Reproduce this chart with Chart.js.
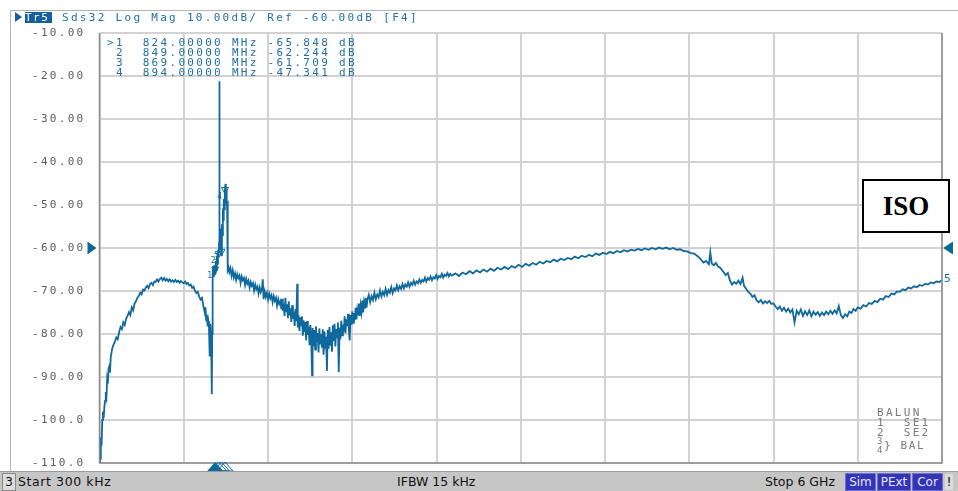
<!DOCTYPE html>
<html>
<head>
<meta charset="utf-8">
<script src="https://cdn.jsdelivr.net/npm/chart.js@4.4.1/dist/chart.umd.min.js"></script>
<style>
  body { margin: 0; background: #fff; }
  #page { position: relative; width: 958px; height: 491px; overflow: hidden; background: #fff; }
  #frame { position: absolute; left: 10px; top: 10px; width: 960px; height: 460px; border-top: 1px solid #b4b4b4; border-left: 1px solid #b4b4b4; }
  #chartBox { position: absolute; left: 0; top: 0; width: 958px; height: 491px; }
  .mono { position: absolute; font-family: 'DejaVu Sans Mono', monospace; font-size: 11px; letter-spacing: 2.3px; color: #1f6fa5; white-space: pre; }
  #tri { position: absolute; left: 15px; top: 12px; width: 0; height: 0; border-left: 7px solid #15609c; border-top: 5px solid transparent; border-bottom: 5px solid transparent; }
  #tr5 { left: 25px; top: 12px; width: 27px; height: 11px; line-height: 11px; background: #15609c; color: #fff; letter-spacing: 1.5px; }
  #head { left: 62px; top: 12px; line-height: 11px; }
  #readout { left: 107px; top: 38px; line-height: 10px; }
  #iso { position: absolute; left: 862px; top: 179px; width: 88px; height: 54px; box-sizing: border-box; border: 2px solid #000; background: #fff;
         font-family: 'Liberation Serif', serif; font-weight: bold; font-size: 27px; line-height: 50px; text-align: center; color: #000; }
  #balun { left: 877px; top: 408px; line-height: 10px; color: #7a7a7a; }
  #balun2 { left: 877px; top: 437px; line-height: 9px; font-size: 9px; letter-spacing: 1px; color: #7a7a7a; }
  #balun3 { left: 884px; top: 440px; line-height: 12px; color: #7a7a7a; letter-spacing: 1.6px; }
  #status { position: absolute; left: 0; top: 471px; width: 958px; height: 20px; background: #c6c6c6; border-top: 1px solid #9a9a9a;
            font-family: 'DejaVu Sans', sans-serif; font-size: 12.5px; color: #111; }
  #status span { position: absolute; top: 2px; height: 16px; line-height: 16px; white-space: nowrap; }
  #status .box3 { left: 2px; width: 12px; text-align: center; background: #dcdcdc; border: 1px solid #8a8a8a; top: 1px; font-size: 12px; }
  #status .flag { background: #3434b8; color: #e8e8ff; text-align: center; border: 1px solid #7070d0; top: 1px; font-size: 12px; }
</style>
</head>
<body>
<div id="page">
  <div id="frame"></div>
  <div id="chartBox"><canvas id="c"></canvas></div>
  <div id="tri"></div>
  <div id="tr5" class="mono">Tr5</div>
  <div id="head" class="mono">Sds32 Log Mag 10.00dB/ Ref -60.00dB [F4]</div>
  <div id="readout" class="mono"></div>
  <div id="iso">ISO</div>
  <div id="balun" class="mono">BALUN
1  SE1
2  SE2</div>
  <div id="balun2" class="mono">3
4</div>
  <div id="balun3" class="mono">} BAL</div>
  <div id="status">
    <span class="box3">3</span>
    <span style="left:18px;letter-spacing:0.6px">Start 300 kHz</span>
    <span style="left:397px">IFBW 15 kHz</span>
    <span style="left:765px">Stop 6 GHz</span>
    <span class="flag" style="left:845px;width:29px">Sim</span>
    <span class="flag" style="left:877px;width:32px">PExt</span>
    <span class="flag" style="left:912px;width:29px">Cor</span>
    <span style="left:945px;width:8px;text-align:center;background:#dcdcdc;">!</span>
  </div>
</div>
<script>
// sweep, MHz
const startMHz = 0.3;
const stopMHz = 6000;
const refLevel = -60;
const yTicks = [-10, -20, -30, -40, -50, -60, -70, -80, -90, -100, -110];

// markers
const markerFreq = [824, 849, 869, 894];
const markerDb = [-65.848, -62.244, -61.709, -47.341];

// trace, [MHz, dB]
const lowBand = [
  [0.3,-112],[5,-109],[10,-104],[15,-106],[20,-100],[25,-98],[30,-99.5],[35,-97],[40,-95.5],[45,-93.5],
  [50,-94.5],[55,-90.5],[60,-91.5],[65,-88],[70,-87.5],[75,-89],[80,-85.5],[90,-83.5],[100,-82.5],[110,-81.8],
  [120,-80.8],[130,-81.2],[140,-79.6],[150,-78.4],[160,-78.9],[170,-77.3],[180,-77.9],[190,-76.4],[200,-75.8],[210,-74.9],
  [220,-75.6],[230,-73.8],[240,-74.5],[250,-72.9],[260,-72.4],[270,-71.6],[280,-71.2],[290,-70.4],[300,-70.8],[310,-69.7],
  [320,-69.9],[330,-69.2],[340,-68.8],[350,-69.3],[360,-68.4],[370,-68.1],[380,-68.6],[390,-67.8],[400,-67.9],[410,-67.3],
  [420,-67.8],[430,-67.2],[440,-66.9],[450,-67.5],[460,-67.0],[470,-67.6],[480,-67.2],[490,-67.7],[500,-67.3],[510,-67.8],
  [520,-67.5],[530,-67.9],[540,-67.4],[550,-67.9],[560,-67.6],[570,-68.1],[580,-67.7],[590,-68.0],[600,-68.2],[610,-67.8],
  [620,-68.4],[630,-68.1],[640,-68.7],[650,-68.5],[660,-69.3],[670,-69.0],[680,-69.9],[690,-70.5],[700,-70.2],[710,-71.3],
  [720,-72.0],[730,-71.6],[740,-73.5],[750,-75.0],[755,-73.8],[760,-76.8],[765,-75.5],[770,-78.2],[775,-77.0],[780,-78.5],
  [785,-85.2],[790,-77.6],[795,-80.5],[800,-94.0],[803,-80.0]
];
const spikeBand = [
  [806,-66.5],[810,-64.2],[814,-66.8],[818,-64.0],[822,-66.3],[824,-65.8],[828,-63.0],[832,-65.2],[836,-61.8],[840,-63.6],
  [844,-60.5],[849,-62.2],[852,-58.5],[853,-21.2],[854,-57.0],[857,-60.5],[861,-55.5],[865,-58.8],[869,-61.7],[872,-54.5],
  [876,-57.0],[879,-50.8],[882,-53.5],[885,-48.6],[888,-51.0],[891,-46.3],[894,-47.3],[897,-45.1],[900,-48.8],[903,-46.5],
  [906,-50.2],[909,-49.0],[912,-60.0],[915,-65.2],[920,-64.6]
];
const shoulderBand = [
  [925,-65.6],[933,-64.7],[941,-66.5],[949,-65.2],[957,-66.9],[965,-65.9],[973,-67.4],[981,-66.1],[989,-67.0],[997,-66.4],
  [1005,-68.1],[1013,-66.6],[1021,-67.5],[1029,-67.0],[1037,-68.6],[1045,-67.2],[1053,-68.3],[1061,-67.6],[1069,-69.2],[1077,-67.9],
  [1085,-68.8],[1093,-68.2],[1101,-69.9],[1109,-68.5],[1117,-69.6],[1125,-69.0],[1133,-70.6],[1141,-69.2],[1149,-70.3],[1157,-69.5],
  [1163,-67.3],[1169,-71.9],[1177,-70.1],[1185,-71.4],[1193,-70.4],[1201,-72.0],[1209,-70.6],[1217,-71.7],[1225,-71.0],[1233,-72.6],
  [1241,-71.2],[1249,-72.3],[1257,-71.6],[1265,-73.4],[1273,-71.9],[1281,-73.0],[1289,-72.4],[1295,-74.2]
];
const dipBand = [
  [1300,-71.8],[1306,-74.6],[1312,-72.9],[1318,-75.8],[1324,-71.6],[1330,-74.9],[1336,-73.1],[1342,-76.3],[1348,-72.4],[1354,-75.7],
  [1360,-74.0],[1366,-77.2],[1372,-73.3],[1378,-76.4],[1384,-74.8],[1390,-78.1],[1396,-74.2],[1402,-77.0],[1408,-68.3],[1412,-78.5],
  [1418,-75.6],[1424,-79.3],[1430,-76.1],[1436,-78.0],[1442,-75.9],[1448,-80.4],[1454,-76.8],[1460,-79.6],[1466,-77.2],[1472,-81.5],
  [1478,-77.0],[1484,-80.2],[1490,-78.3],[1496,-82.6],[1502,-77.9],[1508,-81.0],[1514,-89.6],[1518,-78.6],[1524,-82.8],[1530,-79.1],
  [1536,-83.6],[1542,-78.2],[1548,-81.9],[1554,-79.8],[1560,-84.3],[1566,-78.7],[1572,-82.4],[1578,-80.1],[1584,-83.2],[1590,-78.9],
  [1596,-84.8],[1602,-79.4],[1608,-82.0],[1614,-80.6],[1620,-88.6],[1626,-79.0],[1632,-83.4],[1638,-78.4],[1644,-82.7],[1650,-79.6],
  [1656,-84.1],[1662,-78.0],[1668,-81.6],[1674,-77.6],[1680,-82.9],[1686,-78.8],[1692,-80.7],[1698,-77.3],[1704,-88.9],[1710,-78.5],
  [1716,-81.2],[1722,-76.9],[1728,-80.3],[1734,-77.8],[1740,-79.4],[1746,-75.9],[1752,-79.8],[1758,-76.6],[1764,-78.2],[1770,-75.3],
  [1776,-78.9],[1782,-81.5],[1788,-75.6],[1794,-77.9],[1800,-74.7],[1806,-77.4],[1812,-75.1],[1818,-76.8],[1824,-73.9],[1830,-76.6],
  [1836,-74.3],[1842,-75.5],[1848,-72.9],[1854,-75.8],[1860,-73.4],[1866,-74.9],[1872,-72.2],[1878,-75.0],[1884,-72.7],[1890,-74.1],
  [1896,-71.6],[1902,-73.9],[1908,-72.0]
];
const riseBand = [
  [1918,-70.9],[1928,-72.6],[1938,-71.2],[1948,-72.1],[1958,-70.4],[1968,-71.9],[1978,-70.8],[1988,-71.5],[1998,-69.9],[2008,-71.3],
  [2018,-70.2],[2028,-71.0],[2038,-69.5],[2048,-70.9],[2058,-69.8],[2068,-70.4],[2078,-69.1],[2088,-70.5],[2098,-69.4],[2108,-69.9],
  [2118,-68.7],[2128,-69.8],[2138,-68.9],[2148,-69.5],[2158,-68.4],[2168,-69.4],[2178,-68.5],[2188,-69.0],[2198,-68.0],[2208,-69.0],
  [2218,-68.1],[2228,-68.6],[2238,-67.6],[2248,-68.5],[2258,-67.8],[2268,-68.2],[2278,-67.3],[2288,-68.1],[2298,-67.4],[2308,-67.8],
  [2318,-66.9],[2328,-67.8],[2338,-67.0],[2348,-67.4],[2358,-66.6],[2368,-67.5],[2378,-66.8],[2388,-67.1],[2398,-66.3],[2408,-67.2],
  [2418,-66.5],[2428,-66.8],[2438,-66.0],[2448,-66.9],[2458,-66.2],[2468,-66.5],[2478,-65.8],[2488,-66.6],[2498,-66.0]
];
const flatBand = [
  [2510,-66.4],[2535,-65.9],[2560,-66.5],[2585,-65.7],[2610,-66.1],[2635,-65.4],[2660,-65.9],[2685,-65.2],[2710,-65.7],[2735,-65.0],
  [2760,-65.5],[2785,-64.8],[2810,-65.3],[2835,-64.6],[2860,-65.0],[2885,-64.4],[2910,-64.9],[2935,-64.2],[2960,-64.6],[2985,-63.9],
  [3010,-64.4],[3035,-63.7],[3060,-64.1],[3085,-63.5],[3110,-63.9],[3135,-63.2],[3160,-63.6],[3185,-63.0],[3210,-63.3],[3235,-62.7],
  [3260,-63.1],[3285,-62.5],[3310,-62.8],[3335,-62.3],[3360,-62.6],[3385,-62.0],[3410,-62.4],[3435,-61.8],[3460,-62.1],[3485,-61.6],
  [3510,-61.9],[3535,-61.3],[3560,-61.6],[3585,-61.1],[3610,-61.4],[3635,-60.9],[3660,-61.2],[3685,-60.7],[3710,-61.0],[3735,-60.5],
  [3760,-60.8],[3785,-60.4],[3810,-60.6],[3835,-60.2],[3860,-60.5],[3885,-60.1],[3910,-60.4],[3935,-60.0],[3960,-60.3],[3985,-59.9],
  [4010,-60.2],[4035,-59.9],[4060,-60.3],[4085,-60.0],[4110,-60.4],[4135,-60.3],[4160,-60.7],[4185,-60.8],[4210,-61.2],[4235,-61.3],
  [4260,-61.9],[4280,-62.5],[4300,-63.4],[4320,-63.0],[4340,-63.8],[4350,-61.0],[4360,-63.6],[4375,-64.0],[4390,-63.5],[4405,-64.3],
  [4420,-64.6]
];
const tailBand = [
  [4440,-65.4],[4460,-66.3],[4475,-65.8],[4490,-67.6],[4505,-68.5],[4520,-67.9],[4535,-68.3],[4550,-67.6],[4565,-68.4],[4580,-66.9],
  [4590,-68.8],[4605,-69.5],[4620,-70.2],[4635,-70.6],[4650,-71.4],[4665,-71.0],[4680,-72.2],[4695,-72.6],[4710,-72.1],[4725,-72.9],
  [4740,-72.4],[4755,-72.8],[4770,-72.3],[4785,-73.0],[4800,-72.9],[4815,-73.6],[4830,-74.2],[4845,-73.6],[4860,-74.6],[4875,-73.9],
  [4890,-74.8],[4905,-74.1],[4920,-75.0],[4935,-74.3],[4950,-77.3],[4965,-74.6],[4980,-75.4],[4995,-74.3],[5010,-75.8],[5025,-74.7],
  [5040,-75.6],[5055,-74.5],[5070,-75.9],[5085,-74.8],[5100,-75.5],[5115,-74.9],[5130,-75.8],[5145,-75.0],[5160,-75.6],[5175,-74.8],
  [5190,-75.4],[5205,-74.6],[5220,-75.3],[5235,-74.5],[5250,-75.2],[5265,-73.5],[5280,-75.6],[5295,-76.3],[5310,-75.4],[5325,-75.9],
  [5340,-74.8],[5355,-75.1],[5370,-74.2],[5385,-74.6],[5400,-73.8],[5420,-74.1],[5440,-73.3],[5460,-73.6],[5480,-72.8],[5500,-73.0],
  [5520,-72.3],[5540,-72.6],[5560,-71.8],[5580,-72.0],[5600,-71.2],[5620,-71.4],[5640,-70.6],[5660,-70.8],[5680,-70.1],[5700,-70.2],
  [5720,-69.6],[5740,-69.8],[5760,-69.2],[5780,-69.4],[5800,-68.9],[5820,-69.1],[5840,-68.6],[5860,-68.8],[5880,-68.3],[5900,-68.5],
  [5920,-68.0],[5940,-68.2],[5960,-67.8],[5980,-67.9],[6000,-67.5]
];

const traceColor = '#10699c';
const gridColor = '#d2d2d2';

const trace = [].concat(lowBand, spikeBand, shoulderBand, dipBand, riseBand, flatBand, tailBand).map(p => ({ x: p[0], y: p[1] }));

// marker readout text
document.getElementById('readout').textContent = markerFreq.map((f, i) =>
  (i === 0 ? '>' : ' ') + (i + 1) + '  ' + f.toFixed(5) + ' MHz ' + markerDb[i].toFixed(3) + ' dB'
).join('\n');

const overlay = {
  id: 'overlay',
  beforeDraw(chart) {
    chart.ctx.letterSpacing = '2.3px';
  },
  afterDraw(chart) {
    const { ctx, chartArea: a, scales: { x, y } } = chart;
    ctx.save();
    ctx.letterSpacing = '0px';
    // dark box edges
    ctx.strokeStyle = '#8c8c8c';
    ctx.lineWidth = 1.5;
    ctx.beginPath();
    ctx.moveTo(a.left, a.top);
    ctx.lineTo(a.left, a.bottom);
    ctx.lineTo(a.right, a.bottom);
    ctx.lineTo(a.right, a.top);
    ctx.stroke();

    // reference level arrows
    const ry = y.getPixelForValue(refLevel);
    ctx.fillStyle = traceColor;
    ctx.beginPath();
    ctx.moveTo(a.left - 12, ry - 6.5); ctx.lineTo(a.left - 3, ry); ctx.lineTo(a.left - 12, ry + 6.5);
    ctx.fill();
    ctx.beginPath();
    ctx.moveTo(a.right + 11, ry - 6.5); ctx.lineTo(a.right + 1, ry); ctx.lineTo(a.right + 11, ry + 6.5);
    ctx.fill();

    // trace number at the right end
    const last = trace[trace.length - 1];
    ctx.font = '11px "DejaVu Sans Mono"';
    ctx.textBaseline = 'middle';
    ctx.textAlign = 'left';
    ctx.fillText('5', a.right + 2, y.getPixelForValue(last.y) - 1);

    // marker flags under the axis
    ctx.strokeStyle = traceColor;
    ctx.lineWidth = 1;
    markerFreq.forEach((f, i) => {
      const mx = x.getPixelForValue(f);
      ctx.beginPath();
      ctx.moveTo(mx, a.bottom - 1); ctx.lineTo(mx - 8, a.bottom + 8); ctx.lineTo(mx + 8, a.bottom + 8);
      ctx.closePath();
      if (i === 0) ctx.fill(); else ctx.stroke();
    });

    // marker symbols on the trace
    ctx.font = '8px "DejaVu Sans Mono"';
    ctx.textAlign = 'right';
    markerFreq.forEach((f, i) => {
      const mx = x.getPixelForValue(f);
      const my = y.getPixelForValue(markerDb[i]);
      ctx.beginPath();
      ctx.moveTo(mx, my); ctx.lineTo(mx - 3.5, my - 6); ctx.lineTo(mx + 3.5, my - 6);
      ctx.closePath();
      ctx.stroke();
      ctx.fillText(String(i + 1), mx - 3, my + 3);
    });
    ctx.restore();
  }
};

new Chart(document.getElementById('c'), {
  type: 'line',
  data: {
    datasets: [{
      data: trace,
      borderColor: traceColor,
      borderWidth: 1.8,
      pointRadius: 0,
      tension: 0,
      fill: false
    }]
  },
  options: {
    responsive: true,
    maintainAspectRatio: false,
    animation: false,
    events: [],
    layout: { padding: { left: 10, right: 16, top: 33, bottom: 28 } },
    plugins: { legend: { display: false }, tooltip: { enabled: false } },
    scales: {
      x: {
        type: 'linear',
        min: startMHz,
        max: stopMHz,
        afterBuildTicks: s => {
          s.ticks = yTicks.map((v, i) => ({ value: startMHz + i * (stopMHz - startMHz) / 10 }));
        },
        afterFit: s => { s.height = 0; },
        ticks: { display: false },
        grid: { color: gridColor, lineWidth: 2, drawTicks: false },
        border: { display: false }
      },
      y: {
        min: -110,
        max: -10,
        afterBuildTicks: s => { s.ticks = yTicks.map(v => ({ value: v })); },
        afterFit: s => { s.width = 89.5; },
        ticks: {
          padding: 14,
          color: '#5c5c5c',
          font: { family: 'DejaVu Sans Mono', size: 11 },
          callback: v => v <= -100 ? v.toFixed(1) : v.toFixed(2)
        },
        grid: { color: gridColor, lineWidth: 2, drawTicks: false },
        border: { display: false }
      }
    }
  },
  plugins: [overlay]
});
</script>
</body>
</html>
